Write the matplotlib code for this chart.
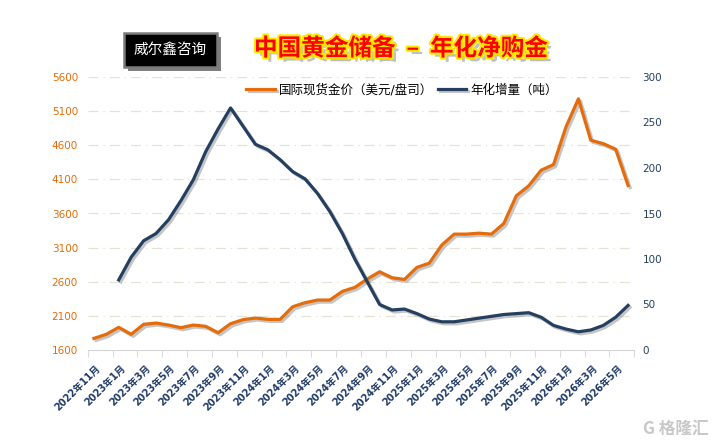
import numpy as np
import matplotlib
matplotlib.use("Agg")
import matplotlib.pyplot as plt
import matplotlib.patheffects as pe
import matplotlib.transforms as mtransforms
from matplotlib.patches import FancyBboxPatch

plt.rcParams['font.family'] = ['DejaVu Sans', 'Noto Sans CJK SC']

# x tick labels, one every 2 months (data is monthly, 2022-11 .. 2026-06)
tick_labels = ['2022年11月', '2023年1月', '2023年3月', '2023年5月', '2023年7月', '2023年9月',
               '2023年11月', '2024年1月', '2024年3月', '2024年5月', '2024年7月', '2024年9月',
               '2024年11月', '2025年1月', '2025年3月', '2025年5月', '2025年7月', '2025年9月',
               '2025年11月', '2026年1月', '2026年3月', '2026年5月']

# spot gold price (USD/oz), left axis
gold = [1770, 1830, 1932, 1830, 1976, 1995, 1966, 1927, 1966, 1947, 1853, 1985,
        2044, 2068, 2049, 2049, 2234, 2293, 2332, 2332, 2459, 2517, 2639, 2746,
        2659, 2634, 2810, 2873, 3137, 3298, 3298, 3312, 3298, 3454, 3859, 4005,
        4234, 4317, 4868, 5280, 4673, 4624, 4542, 4010]

# annualised increase (tonnes), right axis
annual = [np.nan, np.nan, 77, 102, 120, 128, 143, 164, 187, 218, 243, 266,
          246, 226, 220, 209, 196, 188, 172, 152, 128, 100, 75, 50,
          44, 45, 40, 34, 31, 31, 33, 35, 37, 39, 40, 41,
          36, 27, 23, 20, 22, 27, 36, 49]

orange = '#E46C0A'
navy = '#243F60'

fig = plt.figure(figsize=(7.13, 4.43), dpi=100)
ax = fig.add_axes([87.7 / 713, 1 - 350 / 443, (634.3 - 87.7) / 713, (350 - 77) / 443])
ax2 = ax.twinx()

x = np.arange(len(gold))
shadow = [pe.SimpleLineShadow(offset=(1.5, -1.5), shadow_color='gray', alpha=0.45), pe.Normal()]

l1, = ax.plot(x, gold, color=orange, lw=2.3, solid_joinstyle='round', path_effects=shadow,
              label='国际现货金价（美元/盘司）')
l2, = ax2.plot(x, annual, color=navy, lw=2.3, solid_joinstyle='round', path_effects=shadow,
               label='年化增量（吨）')

ax.set_xlim(-0.5, len(gold) - 0.5)
ax.set_ylim(1600, 5600)
ax2.set_ylim(0, 300)
ax.set_yticks(np.arange(1600, 5601, 500))
ax2.set_yticks(np.arange(0, 301, 50))

# gridlines
for v in np.arange(2100, 5601, 500):
    ax.axhline(v, color='#E6E2D4', lw=0.9, ls=(0, (8, 4, 1, 4)), zorder=0)

for a in (ax, ax2):
    for s in ('left', 'right', 'top'):
        a.spines[s].set_visible(False)
ax.spines['bottom'].set_color('#D4D4D4')
ax2.spines['bottom'].set_visible(False)

ax.tick_params(axis='y', length=0, pad=7, labelsize=7.5, labelcolor=orange)
ax2.tick_params(axis='y', length=0, pad=6, labelsize=7.5, labelcolor=navy)

ax.set_xticks(np.arange(0, len(gold), 2))
ax.set_xticklabels(tick_labels, rotation=45, ha='right', va='center', rotation_mode='anchor',
                   fontsize=7, fontweight='bold', color='#1F3A68')
ax.tick_params(axis='x', length=0, pad=12)
shift = mtransforms.ScaledTranslation(5 / 100, 0, fig.dpi_scale_trans)
for lab in ax.get_xticklabels():
    lab.set_transform(lab.get_transform() + shift)
ax.set_xticks(np.arange(-0.5, len(gold), 2), minor=True)
ax.tick_params(axis='x', which='minor', length=5, color='#D4D4D4', direction='out')

fig.legend(handles=[l1, l2], loc='center', bbox_to_anchor=(402 / 713, 1 - 90 / 443), ncol=2,
           frameon=False, fontsize=9, handlelength=2.3, handletextpad=0.3, columnspacing=0.35)

# brand box
box = FancyBboxPatch((124 / 713, 1 - 66.7 / 443), 92.7 / 713, 33.4 / 443,
                     boxstyle='square,pad=0', transform=fig.transFigure,
                     facecolor='black', edgecolor='#7A7A7A', lw=1.8,
                     path_effects=[pe.SimplePatchShadow(offset=(3, -3), alpha=0.5), pe.Normal()])
fig.patches.append(box)
fig.text(170 / 713, 1 - 50 / 443, '威尔鑫咨询', color='white', fontsize=10.5,
         ha='center', va='center', family=['Noto Sans CJK SC', 'DejaVu Sans'])

# title
fig.text(401 / 713, 1 - 48.5 / 443, '中国黄金储备  –  年化净购金', color='#FF0000', fontsize=17,
         fontweight='bold', ha='center', va='center', family=['Noto Sans CJK SC', 'DejaVu Sans'],
         path_effects=[pe.withSimplePatchShadow(offset=(3, -3), shadow_rgbFace='gray', alpha=0.5),
                       pe.withStroke(linewidth=3, foreground='#FFE800')])

# watermark
fig.text(676 / 713, 1 - 429 / 443, 'G 格隆汇', color='#C8C8C8', fontsize=12, fontweight='bold',
         ha='center', va='center', family=['Noto Sans CJK SC', 'DejaVu Sans'])

fig.savefig('out.png', dpi=100)
